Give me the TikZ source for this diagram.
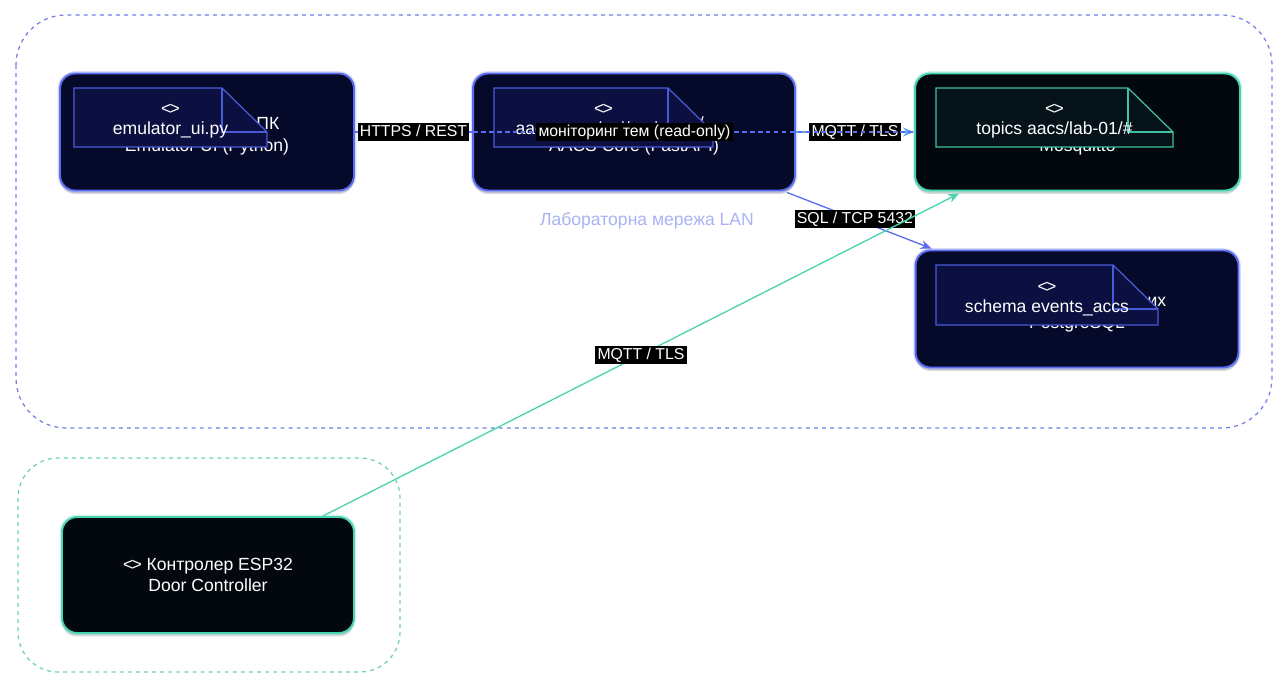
\documentclass[tikz,border=0pt]{standalone}
\usepackage{fontspec}
\setmainfont{Liberation Sans}
\usetikzlibrary{arrows.meta,calc,shadows}

\definecolor{navyfill}{HTML}{060A2A}
\definecolor{darkfill}{HTML}{03080E}
\definecolor{edgeblue}{HTML}{5B6CF0}
\definecolor{edgeteal}{HTML}{49D3B0}
\definecolor{notenavy}{HTML}{0B1040}
\definecolor{noteblue}{HTML}{4A5AD8}
\definecolor{notedark}{HTML}{05121A}
\definecolor{noteteal}{HTML}{3FC0A0}
\definecolor{lanblue}{HTML}{6F7FE8}
\definecolor{lantext}{HTML}{A9B2F5}
\definecolor{espteal}{HTML}{6CCFB4}
\definecolor{mqttblue}{HTML}{58A8E8}

\newcommand{\dia}{\textless\kern-0.1em\textgreater}

\tikzset{
  srvbox/.style={rounded corners=0.3cm, line width=1.1pt, minimum height=2.34cm,
    drop shadow={opacity=0.3, shadow xshift=0pt, shadow yshift=-0.07cm}},
  boxnavy/.style={srvbox, draw=edgeblue, fill=navyfill,
    preaction={draw=edgeblue, line width=2.6pt, draw opacity=0.25}},
  boxdark/.style={srvbox, draw=edgeteal, fill=darkfill,
    preaction={draw=edgeteal, line width=2.6pt, draw opacity=0.25}},
  boxtxt/.style={text=white, align=center, font=\fontsize{10}{12.5}\selectfont, yshift=-0.07cm},
  notetext/.style={text=white, align=center, font=\fontsize{10}{11.5}\selectfont, inner sep=0pt},
  lbl/.style={fill=black, text=white, font=\fontsize{9}{10}\selectfont,
    inner xsep=1.2pt, inner ysep=0.8pt, text height=6.8pt, text depth=1.9pt},
  zonebox/.style={dash pattern=on 2.2pt off 2.4pt, line width=0.7pt, rounded corners=1cm},
  wire/.style={line width=0.75pt}
}

% note with folded corner: name, left, top, width, height, fill, line, text
\newcommand{\notebox}[8]{%
  \filldraw[fill=#6, draw=#7, line width=0.7pt] (#2,#3) -- ++({#4-45},0) -- ++(45,44) -- ++(0,{#5-44}) -- ++({-#4},0) -- cycle;
  \draw[#7, line width=0.7pt] ({#2+#4-45},#3) -- ++(0,44) -- ++(45,0);
  \node[notetext] (#1) at ({#2+#4/2},{#3+#5/2+4}) {\dia\\#8};
}

\begin{document}
\begin{tikzpicture}[>=Stealth, x=0.02cm, y=-0.02cm]
	\useasboundingbox (0,0) rectangle (1275,675);
	% zones
	\draw[zonebox, lanblue] (16,15) rectangle (1272,428);
	\draw[zonebox, espteal, rounded corners=0.8cm] (18,458) rectangle (400,672);
	\node[text=lantext, font=\fontsize{10}{12}\selectfont] (lan) at (647,221) {Лабораторна мережа LAN};
	
	% servers
	\node[boxnavy, minimum width=5.88cm, label={[boxtxt]center:{Лабораторний ПК\\Emulator UI (Python)}}] (emu) at (207,132) {};
	\node[boxnavy, minimum width=6.44cm, label={[boxtxt]center:{Сервер доступу /\\AACS Core (FastAPI)}}] (core) at (634,132) {};
	\node[boxdark, minimum width=6.5cm, label={[boxtxt]center:{MQTT брокер\\Mosquitto}}] (mqtt) at (1077.5,132) {};
	\node[boxnavy, minimum width=6.46cm, label={[boxtxt]center:{Реляційна база даних\\PostgreSQL}}] (db) at (1077,309) {};
	\node[boxdark, minimum width=5.84cm, minimum height=2.32cm, text=white, align=center, font=\fontsize{10}{11.5}\selectfont] (esp) at (208,575) {\dia{} Контролер ESP32\\Door Controller};
	
	% notes
	\notebox{emunote}{74}{88}{193}{59}{notenavy}{noteblue}{emulator\_ui.py}
	\notebox{corenote}{494}{88}{219}{59}{notenavy}{noteblue}{aacs\_core/api/main.py}
	\notebox{mqttnote}{936}{88}{237}{59}{notedark}{noteteal}{topics aacs/lab-01/\#}
	\notebox{dbnote}{936}{265}{222}{60}{notenavy}{noteblue}{schema events\_accs}
	
	% links
	\draw[wire, edgeblue, -{Stealth[length=0.22cm,width=0.18cm]}] ($(core.south east)+(-9,1)$) -- node[lbl, pos=0.47] (sql) {SQL / TCP 5432} ($(db.north west)+(17,-1)$);
	\draw[wire, edgeteal, -{Stealth[length=0.22cm,width=0.18cm]}] ($(esp.north east)+(-32,0)$) -- node[lbl] (espmqtt) {MQTT / TLS} ($(mqtt.south west)+(45,2)$);
	\draw[wire, mqttblue, -{Stealth[length=0.22cm,width=0.18cm]}] (core.east) -- node[lbl] (coremqtt) {MQTT / TLS} (mqtt.west);
	\draw[wire, edgeblue, dash pattern=on 2.5pt off 2pt] (emu.east) -- node[lbl] (monitor) {моніторинг тем (read-only)} (mqtt.west);
	\draw[wire, edgeblue] (emu.east) -- node[lbl] (rest) {HTTPS / REST} (core.west);
\end{tikzpicture}
\end{document}
